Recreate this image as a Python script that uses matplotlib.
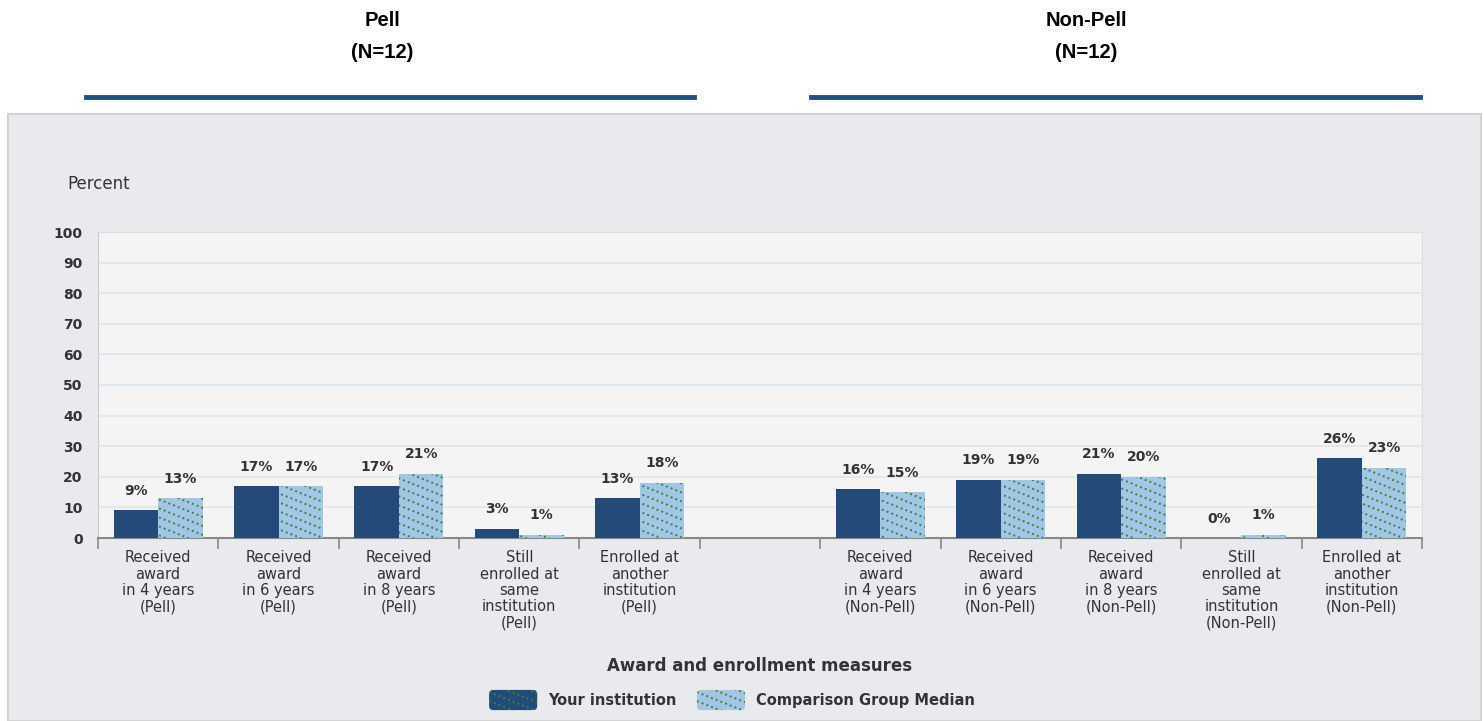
import numpy as np
import matplotlib.pyplot as plt
from matplotlib.patches import Rectangle, FancyBboxPatch
from matplotlib.lines import Line2D
from matplotlib.collections import LineCollection
from matplotlib.legend_handler import HandlerBase

plt.rcParams['font.family'] = ['DejaVu Sans']

# data
categories = [
    "Received\naward\nin 4 years\n(Pell)",
    "Received\naward\nin 6 years\n(Pell)",
    "Received\naward\nin 8 years\n(Pell)",
    "Still\nenrolled at\nsame\ninstitution\n(Pell)",
    "Enrolled at\nanother\ninstitution\n(Pell)",
    "",
    "Received\naward\nin 4 years\n(Non-Pell)",
    "Received\naward\nin 6 years\n(Non-Pell)",
    "Received\naward\nin 8 years\n(Non-Pell)",
    "Still\nenrolled at\nsame\ninstitution\n(Non-Pell)",
    "Enrolled at\nanother\ninstitution\n(Non-Pell)",
]
your_inst = [9, 17, 17, 3, 13, None, 16, 19, 21, 0, 26]
comparison = [13, 17, 21, 1, 18, None, 15, 19, 20, 1, 23]
group_names = ["Pell", "Non-Pell"]
group_n = ["(N=12)", "(N=12)"]
yticks = list(range(0, 101, 10))

dark = '#234a78'
light = '#a3c5e6'
dotc = '#368636'
txt = '#333333'
dot_style = (0, (1.0, 1.6))

W, H = 1484, 721
fig = plt.figure(figsize=(W / 100, H / 100), dpi=100)
fig.patch.set_facecolor('white')

# gray panel behind the chart
panel = Rectangle((8 / W, 0), 1473 / W, 607 / H, transform=fig.transFigure,
                  facecolor='#e9eaee', edgecolor='#d3d3d3', linewidth=1.5, zorder=-1)
fig.add_artist(panel)

# group headers with underline
header_x = [382, 1086]
header_lines = [(86, 694), (811, 1420)]
for i in range(2):
    fig.text(header_x[i] / W, 1 - 20 / H, group_names[i], ha='center', va='center',
             fontsize=14.5, fontweight='bold', color='black', family='Liberation Sans')
    fig.text(header_x[i] / W, 1 - 52 / H, group_n[i], ha='center', va='center',
             fontsize=14.5, fontweight='bold', color='black', family='Liberation Sans')
    x0, x1 = header_lines[i]
    fig.add_artist(Line2D([x0 / W, x1 / W], [1 - 97 / H] * 2,
                          transform=fig.transFigure, color='#24507e', linewidth=3.5))

ax_px = (98, 538, 1324, 306)  # left, bottom (from top), width, height in pixels
ax = fig.add_axes([ax_px[0] / W, 1 - ax_px[1] / H, ax_px[2] / W, ax_px[3] / H])
ax.set_zorder(2)
ax.set_facecolor('#f4f4f4')


def dotted_hatch(width, height, step, slope=0.4):
    # diagonal lines (upper-left to lower-right) covering a width x height box
    segs = []
    c = 0.0
    while c < height + slope * width:
        segs.append([(0, c), (width, c - slope * width)])
        c += step
    return segs


# hatch lines for the bars, in axes fraction coords (step/slope in pixels)
aw, ah = ax_px[2], ax_px[3]
axes_segs = [[(x0 / aw, y0 / ah), (x1 / aw, y1 / ah)]
             for (x0, y0), (x1, y1) in dotted_hatch(aw, ah, 9)]

x = np.arange(len(categories))
w = 0.37
for i in range(len(categories)):
    if your_inst[i] is None:
        continue
    ax.bar(x[i] - w / 2, your_inst[i], w, color=dark, zorder=3)
    bars = ax.bar(x[i] + w / 2, comparison[i], w, color=light, linewidth=0, zorder=3)
    lc = LineCollection(axes_segs, colors=dotc, linewidths=1.4, linestyles=[dot_style],
                        transform=ax.transAxes, zorder=4)
    ax.add_collection(lc, autolim=False)
    lc.set_clip_path(bars[0])
    ax.annotate(f"{your_inst[i]}%", (x[i] - w / 2, your_inst[i]), xytext=(0, 14),
                textcoords='offset points', ha='center', va='center', fontsize=10,
                fontweight='bold', color=txt)
    ax.annotate(f"{comparison[i]}%", (x[i] + w / 2, comparison[i]), xytext=(0, 14),
                textcoords='offset points', ha='center', va='center', fontsize=10,
                fontweight='bold', color=txt)

ax.set_xlim(-0.5, len(categories) - 0.5)
ax.set_ylim(0, 100)
ax.set_yticks(yticks)
ax.set_yticklabels([str(t) for t in yticks], fontsize=10, fontweight='bold', color=txt)
ax.tick_params(axis='y', length=0, pad=11)
ax.yaxis.grid(True, color='#dce6f0', linewidth=1.2, zorder=0)
ax.set_axisbelow(True)

ax.set_xticks(x)
ax.set_xticklabels(categories, fontsize=10.5, color=txt, linespacing=1.1)
ax.set_xticks(np.arange(-0.5, len(categories) + 0.5, 1), minor=True)
ax.tick_params(axis='x', which='major', length=0, pad=9)
ax.tick_params(axis='x', which='minor', length=8, color='#888888', width=1.2)

for s in ['top', 'right']:
    ax.spines[s].set_color('#dddddd')
ax.spines['left'].set_color('#cccccc')
ax.spines['bottom'].set_color('#888888')
ax.spines['bottom'].set_linewidth(1.5)

fig.text(67 / W, 1 - 184 / H, "Percent", fontsize=12, color=txt, va='center')
fig.text(760 / W, 1 - 666 / H, "Award and enrollment measures", ha='center',
         va='center', fontsize=12, fontweight='bold', color=txt)


class DotHatchHandler(HandlerBase):
    def create_artists(self, legend, orig_handle, xdescent, ydescent, width, height,
                       fontsize, trans):
        box = FancyBboxPatch((-xdescent, -ydescent), width, height,
                             boxstyle='round,pad=0,rounding_size=3',
                             facecolor=orig_handle.get_facecolor(), edgecolor='none',
                             transform=trans)
        segs = [[(a - xdescent, b - ydescent), (c - xdescent, d - ydescent)]
                for (a, b), (c, d) in dotted_hatch(width, height, 6.5)]
        lc = LineCollection(segs, colors=dotc, linewidths=1.4, linestyles=[dot_style],
                            transform=trans)
        lc.set_clip_path(box)
        return [box, lc]


handles = [Rectangle((0, 0), 1, 1, facecolor=dark), Rectangle((0, 0), 1, 1, facecolor=light)]
leg = fig.legend(handles, ["Your institution", "Comparison Group Median"],
                 loc='center', bbox_to_anchor=(732 / W, 1 - 700 / H), ncol=2,
                 frameon=False, handlelength=3.3, handleheight=1.75, handletextpad=0.75,
                 columnspacing=1.4, prop={'size': 10.5, 'weight': 'bold'},
                 handler_map={Rectangle: DotHatchHandler()})
for t in leg.get_texts():
    t.set_color(txt)

fig.savefig('out.png', dpi=100, facecolor=fig.get_facecolor())
